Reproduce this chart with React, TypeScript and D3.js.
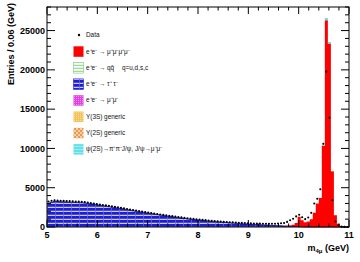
import React from 'react';
import * as d3 from 'd3';

// histogram binning: 100 bins of 0.06 GeV from 5 to 11
const binLow = 5;
const binWidth = 0.06;

// e+e- -> tau+ tau-  (bins 0..99)
const tauTau = [
  3000, 3150, 3250, 3250, 3200, 3200, 3180, 3150, 3150, 3120,
  3100, 3080, 3050, 3000, 2950, 2880, 2820, 2760, 2700, 2650,
  2580, 2520, 2460, 2400, 2340, 2270, 2200, 2130, 2060, 2000,
  1930, 1870, 1810, 1750, 1690, 1630, 1570, 1510, 1450, 1400,
  1340, 1290, 1230, 1180, 1130, 1080, 1030, 980, 940, 900,
  860, 820, 780, 740, 710, 680, 650, 620, 590, 560,
  530, 500, 470, 440, 410, 390, 370, 350, 330, 310,
  290, 270, 250, 230, 210, 190, 170, 150, 130, 110,
  100, 80, 60, 40, 25, 12, 5, 0, 0, 0,
  0, 0, 0, 0, 0, 0, 0, 0, 0, 0,
];

// e+e- -> mu+mu-mu+mu-  (starts at bin 79)
const fourMuStart = 79;
const fourMu = [
  50, 100, 200, 450, 1250, 850, 580, 680, 1000, 1800,
  3000, 3700, 10350, 26300, 23350, 7100, 1500, 400, 100, 30, 0,
];

// psi(2S) -> pi+pi- J/psi  (starts at bin 90)
const psiStart = 90;
const psi2S = [20, 150, 300, 180, 40];

// data counts (bins 0..99)
const dataCounts = [
  3250, 3350, 3400, 3380, 3350, 3330, 3300, 3290, 3280, 3250,
  3230, 3200, 3160, 3110, 3050, 2990, 2930, 2870, 2800, 2750,
  2690, 2620, 2560, 2500, 2440, 2370, 2300, 2230, 2160, 2100,
  2030, 1970, 1900, 1840, 1780, 1720, 1660, 1600, 1540, 1490,
  1430, 1380, 1320, 1270, 1220, 1170, 1120, 1070, 1030, 990,
  950, 910, 870, 830, 800, 760, 730, 700, 670, 640,
  610, 590, 560, 540, 520, 500, 480, 460, 450, 440,
  430, 420, 420, 410, 410, 420, 440, 470, 500, 650,
  850, 1050, 1350, 1550, 1250, 1000, 1200, 1800, 3000, 3600,
  4800, 10600, 19800, 13900, 3400, 700, 250, 60, 20, 5,
];

const legendLabels = [
  'Data',
  'e⁺e⁻ → μ⁺μ⁻μ⁺μ⁻',
  'e⁺e⁻ → qq̄',
  'e⁺e⁻ → τ⁺ τ⁻',
  'e⁺e⁻ → μ⁺μ⁻',
  'Υ(3S) generic',
  'Υ(2S) generic',
  'ψ(2S)→π⁺π⁻J/ψ, J/ψ→μ⁺μ⁻',
];
const legendFills = [null, '#ff0000', 'url(#pGreen)', 'url(#pBlue)', 'url(#pMag)', 'url(#p3S)', 'url(#p2S)', 'url(#pCyan)'];

const W = 360, H = 262;
const left = 47, right = 349, top = 7, bottom = 227;
const font = 'Liberation Sans, Arial, Helvetica, sans-serif';

function expand(vals: number[], start: number) {
  const out = new Array(100).fill(0);
  vals.forEach((v, k) => { out[start + k] = v; });
  return out;
}

export default function App() {
  const x = d3.scaleLinear().domain([5, 11]).range([left, right]);
  const y = d3.scaleLinear().domain([0, 28000]).range([bottom, top]);

  const tt = tauTau;
  const mu4 = expand(fourMu, fourMuStart);
  const psi = expand(psi2S, psiStart);
  const layers = [tt, mu4, psi];
  const cum: number[][] = [];
  let base = new Array(100).fill(0);
  layers.forEach(l => {
    const nb = base.map((b, i) => b + l[i]);
    cum.push(base, nb);
    base = nb;
  });

  const stepArea = (lo: number[], hi: number[]) => {
    const pts = d3.range(101).map(i => ({ e: binLow + i * binWidth, lo: lo[Math.min(i, 99)], hi: hi[Math.min(i, 99)] }));
    return d3.area<any>().x(d => x(d.e)).y0(d => y(d.lo)).y1(d => y(d.hi)).curve(d3.curveStepAfter)(pts) || '';
  };
  const stepLine = (hi: number[]) => {
    const pts = d3.range(101).map(i => ({ e: binLow + i * binWidth, hi: hi[Math.min(i, 99)] }));
    return d3.line<any>().x(d => x(d.e)).y(d => y(d.hi)).curve(d3.curveStepAfter)(pts) || '';
  };

  const xMajor = x.ticks(6);
  const xMinor = d3.range(0, 31).map(k => 5 + k * 0.2);
  const yMajor = y.ticks(6);
  const yMinor = d3.range(0, 29).map(k => k * 1000);

  return (
    <svg width={W} height={H} style={{ position: 'absolute', left: 0, top: 0, background: '#fff' }} fontFamily={font}>
      <defs>
        <pattern id="pBlue" patternUnits="userSpaceOnUse" width="8" height="4">
          <rect width="8" height="4" fill="#1f1fd0" />
          <rect y="2.8" width="8" height="1" fill="#f4f4ff" />
          <rect x="7.3" width="0.7" height="4" fill="#6b6bf0" />
        </pattern>
        <pattern id="pGreen" patternUnits="userSpaceOnUse" width="4" height="3">
          <rect width="4" height="3" fill="#fff" />
          <rect y="1.8" width="4" height="0.9" fill="#77cc77" />
        </pattern>
        <pattern id="pMag" patternUnits="userSpaceOnUse" width="2" height="2">
          <rect width="2" height="2" fill="#e040e0" />
          <rect width="1" height="1" fill="#f090f0" />
        </pattern>
        <pattern id="p3S" patternUnits="userSpaceOnUse" width="2" height="2">
          <rect width="2" height="2" fill="#f2c35a" />
          <rect width="1" height="1" fill="#f8dd9a" />
        </pattern>
        <pattern id="p2S" patternUnits="userSpaceOnUse" width="4" height="4">
          <rect width="4" height="4" fill="#e89a52" />
          <rect width="2" height="2" fill="#f5cfa5" />
          <rect x="2" y="2" width="2" height="2" fill="#f5cfa5" />
        </pattern>
        <pattern id="pCyan" patternUnits="userSpaceOnUse" width="4" height="3">
          <rect width="4" height="3" fill="#66dfe6" />
          <rect y="2" width="4" height="0.8" fill="#a8f0f2" />
        </pattern>
      </defs>

      {/* stacked histograms */}
      <path d={stepArea(cum[0], cum[1])} fill="url(#pBlue)" />
      <path d={stepLine(cum[1])} fill="none" stroke="#000070" strokeWidth={0.8} />
      <path d={stepArea(cum[2], cum[3])} fill="#ff0000" />
      <path d={stepArea(cum[4], cum[5])} fill="#66dfe6" />

      {/* data points */}
      {dataCounts.map((n, i) => {
        const cx = x(binLow + (i + 0.5) * binWidth);
        const e = Math.sqrt(n);
        return (
          <g key={i}>
            <line x1={cx} x2={cx} y1={y(n + e)} y2={y(Math.max(0, n - e))} stroke="#000" strokeWidth={0.6} />
            <circle cx={cx} cy={y(n)} r={1.05} fill="#000" />
          </g>
        );
      })}

      {/* frame and ticks */}
      <rect x={left} y={top} width={right - left} height={bottom - top} fill="none" stroke="#000" strokeWidth={1} />
      {xMinor.map((v, k) => {
        const major = xMajor.some(m => Math.abs(m - v) < 1e-6);
        const len = major ? 7 : 3.5;
        return (
          <g key={'xm' + k} stroke="#000" strokeWidth={1}>
            <line x1={x(v)} x2={x(v)} y1={bottom} y2={bottom - len} />
            <line x1={x(v)} x2={x(v)} y1={top} y2={top + len} />
          </g>
        );
      })}
      {yMinor.map((v, k) => {
        const major = v % 5000 === 0;
        const len = major ? 8 : 4;
        return (
          <g key={'ym' + k} stroke="#000" strokeWidth={1}>
            <line x1={left} x2={left + len} y1={y(v)} y2={y(v)} />
            <line x1={right} x2={right - len} y1={y(v)} y2={y(v)} />
          </g>
        );
      })}

      {/* tick labels */}
      {xMajor.map(v => (
        <text key={'xl' + v} x={x(v)} y={238} textAnchor="middle" fontSize={9} fontWeight="bold">{v}</text>
      ))}
      {yMajor.map(v => (
        <text key={'yl' + v} x={45} y={y(v) + 3.2} textAnchor="end" fontSize={9} fontWeight="bold">{v}</text>
      ))}

      {/* axis titles */}
      <text transform={`translate(13.5,3) rotate(-90)`} textAnchor="end" fontSize={9} fontWeight="bold">Entries / 0.06 (GeV)</text>
      <text x={349} y={250.5} textAnchor="end" fontSize={9} fontWeight="bold">
        m<tspan fontSize={6} dy={2}>4μ</tspan><tspan dy={-2}> (GeV)</tspan>
      </text>

      {/* legend */}
      {legendLabels.map((lab, k) => {
        const cy = 35 + k * 16.3;
        const fill = legendFills[k];
        return (
          <g key={'lg' + k}>
            {fill === null ? (
              <circle cx={79} cy={cy} r={1.2} fill="#000" />
            ) : (
              <rect x={73.5} y={cy - 5} width={10} height={10.5} fill={fill}
                stroke={k === 2 ? '#77cc77' : k === 3 ? '#1f1fd0' : 'none'} strokeWidth={0.6} />
            )}
            <text x={86} y={cy + 2.2} fontSize={6.4} fill="#111">{lab}</text>
            {k === 2 && <text x={122} y={cy + 2.2} fontSize={6.4} fill="#111">q=u,d,s,c</text>}
          </g>
        );
      })}
    </svg>
  );
}
